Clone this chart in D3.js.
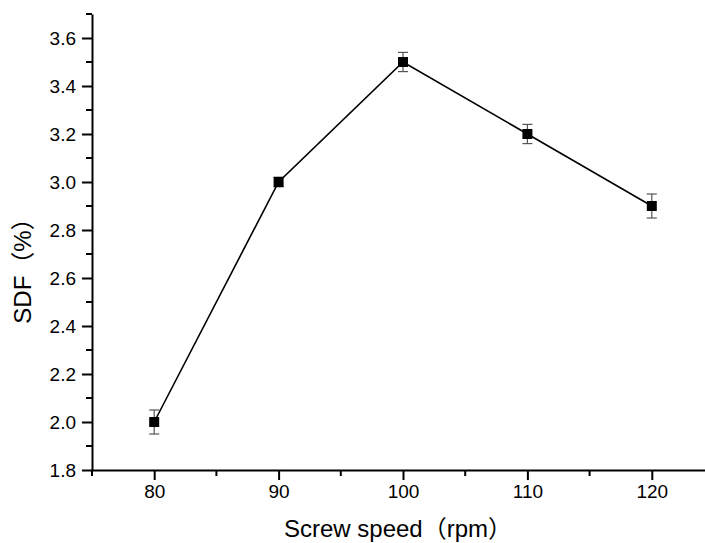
<!DOCTYPE html>
<html>
<head>
<meta charset="utf-8">
<script src="https://cdn.jsdelivr.net/npm/d3@7"></script>
<style>
  body { margin: 0; background: #fff; }
  text { font-family: "Liberation Sans", Arial, "Noto Sans CJK SC", sans-serif; fill: #000; }
</style>
</head>
<body>
<script>
// data
const speeds = [80, 90, 100, 110, 120];
const sdf = [2.0, 3.0, 3.5, 3.2, 2.9];
const sdfErr = [0.05, 0.02, 0.04, 0.04, 0.05];
const xTicks = [80, 90, 100, 110, 120];
const yTicks = [1.8, 2.0, 2.2, 2.4, 2.6, 2.8, 3.0, 3.2, 3.4, 3.6];

const data = speeds.map((s, i) => ({ x: s, y: sdf[i], e: sdfErr[i] }));

const width = 705;
const height = 543;
const margin = { top: 14, right: 0, bottom: 73, left: 92 };

const xScale = d3.scaleLinear()
    .domain([75, 125])
    .range([margin.left, margin.left + 622]);

const yScale = d3.scaleLinear()
    .domain([1.8, 3.7])
    .range([height - margin.bottom, margin.top]);

const svg = d3.select("body")
    .append("svg")
    .attr("width", width)
    .attr("height", height);

// minor ticks
const xMinor = d3.range(75, 126, 5).filter(v => v % 10 !== 0);
const yMinor = d3.range(19, 38, 2).map(v => v / 10);

const xAxis = d3.axisBottom(xScale)
    .tickValues(xTicks)
    .tickSize(10)
    .tickSizeOuter(0)
    .tickPadding(5)
    .tickFormat(d3.format("d"));

const yAxis = d3.axisLeft(yScale)
    .tickValues(yTicks)
    .tickSize(10)
    .tickSizeOuter(0)
    .tickPadding(6)
    .tickFormat(d3.format(".1f"));

const xAxisGroup = svg.append("g")
    .attr("transform", `translate(0, ${height - margin.bottom})`)
    .call(xAxis);

const yAxisGroup = svg.append("g")
    .attr("transform", `translate(${margin.left}, 0)`)
    .call(yAxis);

xAxisGroup.selectAll(".minor")
    .data(xMinor)
    .enter()
    .append("line")
    .attr("class", "minor")
    .attr("x1", d => xScale(d))
    .attr("x2", d => xScale(d))
    .attr("y1", 0)
    .attr("y2", 6);

yAxisGroup.selectAll(".minor")
    .data(yMinor)
    .enter()
    .append("line")
    .attr("class", "minor")
    .attr("y1", d => yScale(d))
    .attr("y2", d => yScale(d))
    .attr("x1", 0)
    .attr("x2", -6);

[xAxisGroup, yAxisGroup].forEach(g => {
    g.select(".domain").attr("stroke", "#000").attr("stroke-width", 2);
    g.selectAll("line").attr("stroke", "#000").attr("stroke-width", 2);
    g.selectAll("text").attr("font-size", 19).attr("fill", "#000")
        .style("font-family", "'Liberation Sans', Arial, sans-serif");
});

// error bars
const errs = svg.append("g")
    .attr("stroke", "#555")
    .attr("stroke-width", 1.2);

errs.selectAll(".err")
    .data(data)
    .enter()
    .append("line")
    .attr("x1", d => xScale(d.x))
    .attr("x2", d => xScale(d.x))
    .attr("y1", d => yScale(d.y - d.e))
    .attr("y2", d => yScale(d.y + d.e));

errs.selectAll(".capTop")
    .data(data)
    .enter()
    .append("line")
    .attr("x1", d => xScale(d.x) - 5)
    .attr("x2", d => xScale(d.x) + 5)
    .attr("y1", d => yScale(d.y + d.e))
    .attr("y2", d => yScale(d.y + d.e));

errs.selectAll(".capBot")
    .data(data)
    .enter()
    .append("line")
    .attr("x1", d => xScale(d.x) - 5)
    .attr("x2", d => xScale(d.x) + 5)
    .attr("y1", d => yScale(d.y - d.e))
    .attr("y2", d => yScale(d.y - d.e));

// line
const line = d3.line()
    .x(d => xScale(d.x))
    .y(d => yScale(d.y));

svg.append("path")
    .datum(data)
    .attr("fill", "none")
    .attr("stroke", "#000")
    .attr("stroke-width", 1.6)
    .attr("d", line);

// square markers
svg.selectAll(".pt")
    .data(data)
    .enter()
    .append("rect")
    .attr("class", "pt")
    .attr("x", d => xScale(d.x) - 5)
    .attr("y", d => yScale(d.y) - 5)
    .attr("width", 10)
    .attr("height", 10)
    .attr("fill", "#000");

// axis titles
svg.append("text")
    .attr("x", 398)
    .attr("y", 537)
    .attr("text-anchor", "middle")
    .attr("font-size", 24)
    .text("Screw speed（rpm）");

svg.append("text")
    .attr("transform", "translate(31, 265) rotate(-90)")
    .attr("text-anchor", "middle")
    .attr("font-size", 24)
    .text("SDF（%）");
</script>
</body>
</html>
